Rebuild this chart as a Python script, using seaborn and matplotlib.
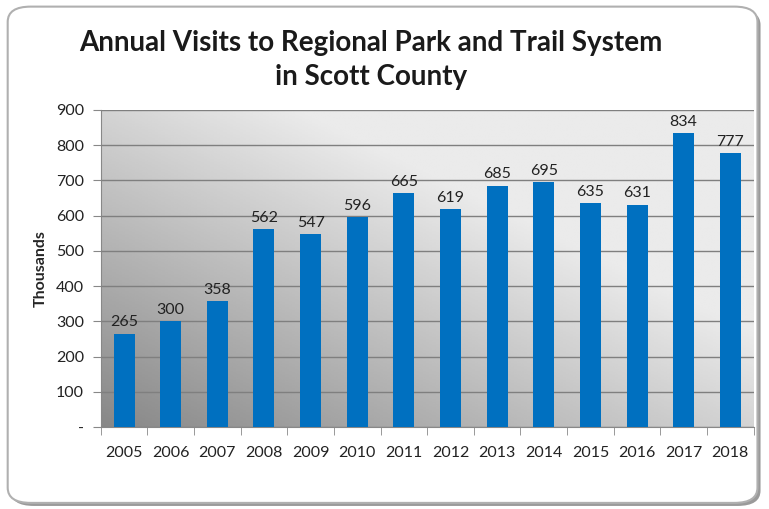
import numpy as np
import pandas as pd
import seaborn as sns
import matplotlib.pyplot as plt
from matplotlib.patches import FancyBboxPatch

# Data (thousands of visits)
years = ['2005', '2006', '2007', '2008', '2009', '2010', '2011',
         '2012', '2013', '2014', '2015', '2016', '2017', '2018']
visits = [265, 300, 358, 562, 547, 596, 665, 619, 685, 695, 635, 631, 834, 777]
y_ticks = [0, 100, 200, 300, 400, 500, 600, 700, 800, 900]
y_tick_labels = ['-', '100', '200', '300', '400', '500', '600', '700', '800', '900']

df = pd.DataFrame({'Year': years, 'Visits': visits})

sns.set_style('white')
plt.rcParams['font.family'] = ['Lato', 'DejaVu Sans']

fig = plt.figure(figsize=(7.69, 5.09), dpi=100)

# rounded frame with a soft shadow
shadow = FancyBboxPatch((0.014, 0.006), 0.975, 0.975, boxstyle='round,pad=0,rounding_size=0.03',
                        transform=fig.transFigure, facecolor='#9a9a9a', edgecolor='none', zorder=0)
frame = FancyBboxPatch((0.010, 0.012), 0.975, 0.975, boxstyle='round,pad=0,rounding_size=0.03',
                       transform=fig.transFigure, facecolor='white', edgecolor='#b0b0b0',
                       linewidth=1.5, zorder=1)
fig.patches.extend([shadow, frame])

ax = fig.add_axes([0.131, 0.161, 0.849, 0.623])
ax.set_zorder(2)

# gradient background: dark lower-left, light top and right
gx, gy = np.meshgrid(np.linspace(0, 1, 200), np.linspace(0, 1, 200))
shade = 0.53 + 0.30 * gx + 0.30 * gy
ax.imshow(np.clip(shade, 0, 0.92), cmap='gray', vmin=0, vmax=1, aspect='auto',
          extent=(-0.5, len(years) - 0.5, 0, 900), origin='lower', zorder=0)

sns.barplot(data=df, x='Year', y='Visits', color='#0070C0', saturation=1,
            width=0.45, linewidth=0, ax=ax, zorder=3)

for i, v in enumerate(visits):
    ax.text(i, v + 12, str(v), ha='center', va='bottom', fontsize=11.5, color='#222222', zorder=4)

ax.set_xlim(-0.5, len(years) - 0.5)
ax.set_ylim(0, 900)
ax.set_yticks(y_ticks)
ax.set_yticklabels(y_tick_labels, fontsize=11.5, color='#222222')
ax.yaxis.grid(True, color='#7f7f7f', linewidth=1)
ax.set_axisbelow(False)
for line in ax.get_ygridlines():
    line.set_zorder(1)

ax.set_xticks(range(len(years)))
ax.set_xticklabels(years, fontsize=11.5, color='#222222')
ax.tick_params(axis='x', length=0, pad=14)
ax.set_xticks(np.arange(-0.5, len(years)), minor=True)
ax.tick_params(axis='x', which='minor', length=6, color='#888888', direction='out', bottom=True)
ax.tick_params(axis='y', length=6, color='#888888', direction='out', left=True, pad=6)

ax.set_xlabel('')
ax.set_ylabel('Thousands', fontsize=11.5, fontweight='bold', labelpad=6)

for side in ['top', 'right']:
    ax.spines[side].set_visible(False)
ax.spines['left'].set_color('#888888')
ax.spines['bottom'].set_color('#888888')

fig.text(0.482, 0.915, 'Annual Visits to Regional Park and Trail System', ha='center', va='center',
         fontsize=20, fontweight='bold', color='#1a1a1a')
fig.text(0.482, 0.848, 'in Scott County', ha='center', va='center',
         fontsize=20, fontweight='bold', color='#1a1a1a')

fig.savefig('out.png', dpi=100)
